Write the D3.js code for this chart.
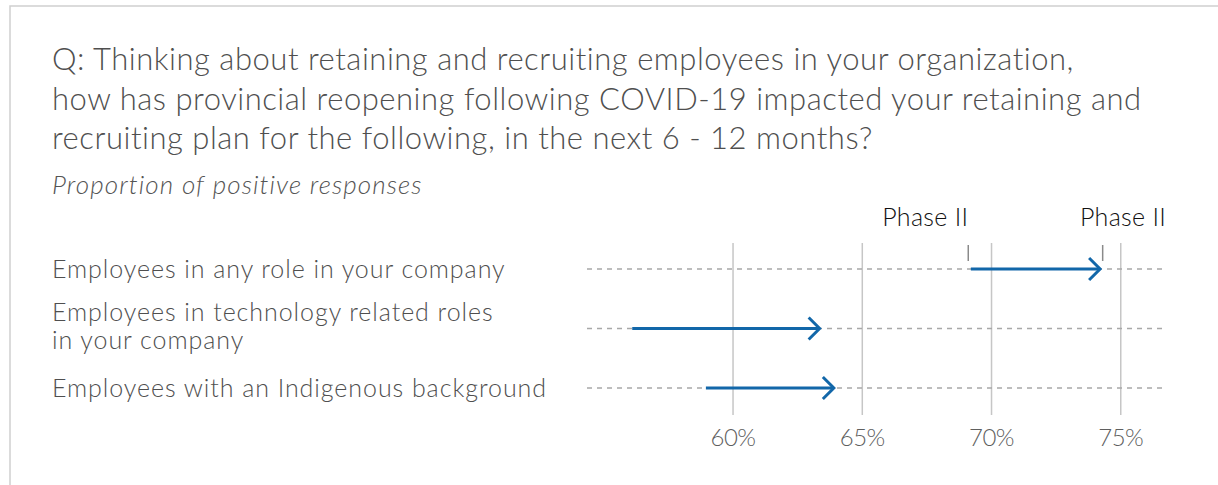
<!DOCTYPE html>
<html>
<head>
<meta charset="utf-8">
<script src="https://cdn.jsdelivr.net/npm/d3@7"></script>
<style>
  body { margin: 0; background: #fff; }
  svg text { font-family: Lato, "Open Sans", sans-serif; font-weight: 300; }
</style>
</head>
<body>
<div id="chart"></div>
<script>
// chart data
var titleLines = [
    "Q: Thinking about retaining and recruiting employees in your organization,",
    "how has provincial reopening following COVID-19 impacted your retaining and",
    "recruiting plan for the following, in the next 6 - 12 months?"
];
var subtitle = "Proportion of positive responses";
var categories = [
    "Employees in any role in your company",
    "Employees in technology related roles\nin your company",
    "Employees with an Indigenous background"
];
var startValues = [69.2, 56.1, 58.95];
var endValues = [74.2, 63.35, 63.9];
var tickValues = [60, 65, 70, 75];
var phaseMarks = [69.1, 74.3];
var phaseLabels = ["Phase II", "Phase II"];

var width = 1218;
var height = 485;
var plot = {left: 587, right: 1166, top: 243, bottom: 415};

var svg = d3.select("#chart")
    .append("svg")
    .attr("width", width)
    .attr("height", height);

// stretch letter spacing of a group so that its reference line gets the wanted width
function spreadTo(sel, refNode, target) {
    var w = refNode.getComputedTextLength();
    var n = refNode.textContent.length;
    sel.style("letter-spacing", ((target - w) / n) + "px");
}

// card border (only top / left edges visible)
svg.append("rect")
    .attr("x", 10)
    .attr("y", 6)
    .attr("width", width + 20)
    .attr("height", height + 20)
    .attr("fill", "none")
    .attr("stroke", "#cfcfcf")
    .attr("stroke-width", 1.5);

// title
var title = svg.append("g")
    .selectAll("text")
    .data(titleLines)
    .enter()
    .append("text")
    .attr("x", 52)
    .attr("y", (d, i) => 70 + i * 39.5)
    .style("font-size", "31px")
    .style("fill", "#4f4f4f")
    .text(d => d);
spreadTo(title, title.node(), 1023);

var sub = svg.append("text")
    .attr("x", 52)
    .attr("y", 194)
    .style("font-size", "26px")
    .style("font-style", "italic")
    .style("fill", "#555")
    .text(subtitle);
spreadTo(sub, sub.node(), 370);

var x = d3.scaleLinear()
    .domain([54.35, 76.75])
    .range([plot.left, plot.right]);

var y = d3.scalePoint()
    .domain(categories)
    .range([269, 388]);

// vertical grid lines
svg.append("g")
    .selectAll("line")
    .data(tickValues)
    .enter()
    .append("line")
    .attr("x1", d => x(d))
    .attr("x2", d => x(d))
    .attr("y1", plot.top)
    .attr("y2", plot.bottom)
    .attr("stroke", "#c6c6c6")
    .attr("stroke-width", 1.5);

// tick labels
var ticks = svg.append("g")
    .selectAll("text")
    .data(tickValues)
    .enter()
    .append("text")
    .attr("x", d => x(d))
    .attr("y", 446)
    .style("text-anchor", "middle")
    .style("font-size", "24px")
    .style("fill", "#5f5f5f")
    .text(d => d + "%");
spreadTo(ticks, ticks.node(), 45);

// dashed row guides
svg.append("g")
    .selectAll("line")
    .data(categories)
    .enter()
    .append("line")
    .attr("x1", plot.left)
    .attr("x2", plot.right)
    .attr("y1", d => y(d))
    .attr("y2", d => y(d))
    .attr("stroke", "#a8a8a8")
    .attr("stroke-width", 1.5)
    .attr("stroke-dasharray", "5,5");

// row labels
var labels = svg.append("g")
    .selectAll("text")
    .data(categories)
    .enter()
    .append("text")
    .attr("x", 52)
    .style("font-size", "25px")
    .style("fill", "#4f4f4f");

labels.each(function(d) {
    var parts = d.split("\n");
    var yy = y(d);
    var first = parts.length > 1 ? yy - 8 : yy + 9;
    d3.select(this).selectAll("tspan")
        .data(parts)
        .enter()
        .append("tspan")
        .attr("x", 52)
        .attr("y", (p, i) => first + i * 28)
        .text(p => p);
});
spreadTo(labels, labels.nodes()[2], 495);

// phase markers and labels
svg.append("g")
    .selectAll("line")
    .data(phaseMarks)
    .enter()
    .append("line")
    .attr("x1", d => x(d))
    .attr("x2", d => x(d))
    .attr("y1", 245)
    .attr("y2", 261)
    .attr("stroke", "#8a8a8a")
    .attr("stroke-width", 1.5);

var phase = svg.append("g")
    .selectAll("text")
    .data(phaseLabels)
    .enter()
    .append("text")
    .attr("x", (d, i) => i === 0 ? x(phaseMarks[0]) : plot.right)
    .attr("y", 226)
    .style("text-anchor", "end")
    .style("font-size", "25px")
    .style("fill", "#111")
    .text(d => d);
spreadTo(phase, phase.node(), 86);

// arrows
var rows = categories.map((c, i) => ({cat: c, start: startValues[i], end: endValues[i]}));

var arrows = svg.append("g")
    .selectAll("g")
    .data(rows)
    .enter()
    .append("g");

arrows.append("line")
    .attr("x1", d => x(d.start))
    .attr("x2", d => x(d.end) - 1)
    .attr("y1", d => y(d.cat))
    .attr("y2", d => y(d.cat))
    .attr("stroke", "#1267a9")
    .attr("stroke-width", 3);

arrows.append("polyline")
    .attr("points", function(d) {
        var tx = x(d.end), ty = y(d.cat);
        return [[tx - 11, ty - 11], [tx, ty], [tx - 11, ty + 11]].join(" ");
    })
    .attr("fill", "none")
    .attr("stroke", "#1267a9")
    .attr("stroke-width", 3);
</script>
</body>
</html>
